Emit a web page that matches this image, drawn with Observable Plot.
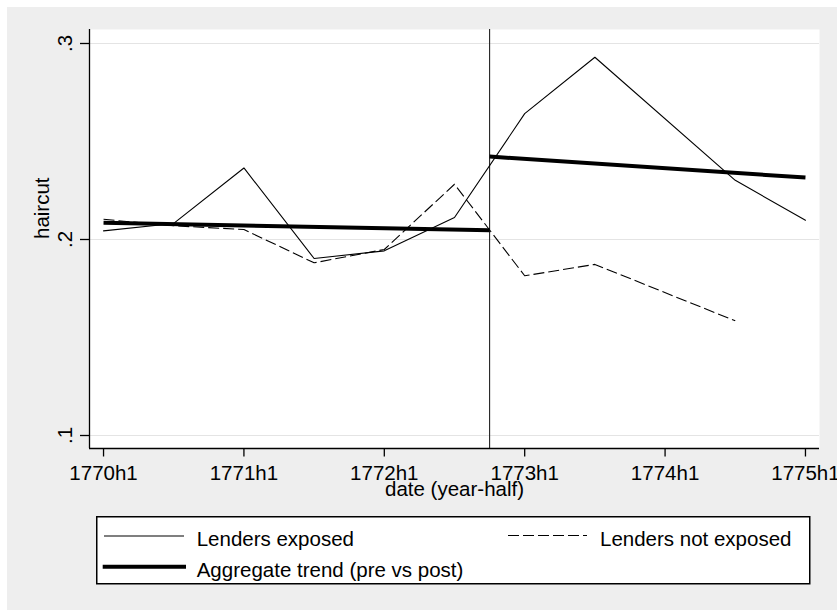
<!DOCTYPE html>
<html><head><meta charset="utf-8">
<script src="https://cdn.jsdelivr.net/npm/d3@7"></script>
<script src="https://cdn.jsdelivr.net/npm/@observablehq/plot@0.6"></script>
<style>
html,body{margin:0;padding:0;background:#fff;}
#wrap{position:relative;width:837px;height:610px;background:#fff;overflow:hidden;font-family:"Liberation Sans",Arial,sans-serif;}
#bg{position:absolute;left:7px;top:7px;right:0;bottom:0;background:#eeeeee;}
#chart{position:absolute;left:0;top:0;}
#legend{position:absolute;left:96px;top:516px;}
</style></head><body>
<div id="wrap"><div id="bg"></div><div id="chart"></div><div id="legend"></div></div>
<script>
// ---- data ----
const periods = ["1770h1","1770h2","1771h1","1771h2","1772h1","1772h2","1773h1","1773h2","1774h1","1774h2","1775h1"];
const exposed    = [0.2044, 0.2082, 0.2365, 0.1903, 0.1942, 0.2112, 0.2642, 0.2930, null, 0.2302, 0.2098];
const notExposed = [0.2103, 0.2070, 0.2051, 0.1881, 0.1949, 0.2282, 0.1815, 0.1873, null, 0.1585, null];
const eventDate = 1772.75; // break between 1772h2 and 1773h1
const trendSegment = ["pre", "pre", "post", "post"];
const trendDate    = [1770, 1772.75, 1772.75, 1775];
const trendValue   = [0.2085, 0.2047, 0.2423, 0.2316];
const xTickLabels = ["1770h1","1771h1","1772h1","1773h1","1774h1","1775h1"];
const yTicks = [0.1, 0.2, 0.3];
const yTickLabels = [".1", ".2", ".3"];
const seriesNames = ["Lenders exposed", "Lenders not exposed", "Aggregate trend (pre vs post)"];

// ---- build ----
const toYear = p => +p.slice(0,4) + (+p.slice(5) - 1) * 0.5;
const rows = periods.map((p,i) => ({t: toYear(p), exposed: exposed[i], notExposed: notExposed[i]}));
const trend = trendDate.map((t,i) => ({t, v: trendValue[i], seg: trendSegment[i]}));
const xTicks = xTickLabels.map(toYear);
const xLab = new Map(xTicks.map((t,i) => [t, xTickLabels[i]]));
const yLab = new Map(yTicks.map((t,i) => [t, yTickLabels[i]]));
const xDomain = [1769.9, 1775.1];
const yDomain = [0.09337, 0.30714];
const font = "'Liberation Sans', Arial, sans-serif";
const fs = 20.5;

const chart = Plot.plot({
  width: 837, height: 510,
  marginLeft: 89, marginRight: 18, marginTop: 29, marginBottom: 62,
  style: {background: "transparent", fontFamily: font, fontSize: fs + "px", color: "#000", overflow: "visible"},
  x: {domain: xDomain, label: null},
  y: {domain: yDomain, label: null},
  marks: [
    Plot.frame({fill: "white", stroke: "none"}),
    Plot.gridY(yTicks, {stroke: "#e4e4e4", strokeOpacity: 1, strokeWidth: 1.2}),
    Plot.ruleX([eventDate], {stroke: "#222", strokeWidth: 1.1}),
    Plot.line(rows.filter(d => d.exposed != null), {x: "t", y: "exposed", stroke: "#000", strokeWidth: 1.1}),
    Plot.line(rows.filter(d => d.notExposed != null), {x: "t", y: "notExposed", stroke: "#000", strokeWidth: 1.1, strokeDasharray: "11,4", strokeLinecap: "butt"}),
    Plot.line(trend, {x: "t", y: "v", z: "seg", stroke: "#000", strokeWidth: 4, strokeLinecap: "butt"}),
    Plot.ruleY([yDomain[0]], {stroke: "#000", strokeWidth: 1.3}),
    Plot.ruleX([xDomain[0]], {stroke: "#000", strokeWidth: 1.3}),
    Plot.axisX(xTicks, {tickFormat: d => xLab.get(d), tickSize: 8.5, tickPadding: 8.5, fontSize: fs, stroke: "#000", strokeWidth: 1.3, label: null}),
    Plot.axisY(yTicks, {tickFormat: d => yLab.get(d), tickSize: 9, tickPadding: 9, tickRotate: -90, fontSize: fs, stroke: "#000", strokeWidth: 1.3, label: null}),
    Plot.text(["haircut"], {text: d => d, frameAnchor: "left", dx: -47, rotate: -90, fontSize: fs}),
    Plot.text(["date (year-half)"], {text: d => d, frameAnchor: "bottom", dy: 47, fontSize: fs})
  ]
});
document.getElementById("chart").appendChild(chart);

// ---- legend ----
const L = d3.select("#legend").append("svg").attr("width", 716).attr("height", 70)
  .style("font-family", font).style("font-size", fs + "px");
L.append("rect").attr("x", 0.75).attr("y", 0.75).attr("width", 713).attr("height", 67)
  .attr("fill", "#fff").attr("stroke", "#000").attr("stroke-width", 1.5);
const keys = [
  {name: seriesNames[0], x1: 8, x2: 88, y: 20, tx: 100.7, ty: 29.5, w: 1.1, dash: null},
  {name: seriesNames[1], x1: 412, x2: 491, y: 19.5, tx: 504, ty: 29.5, w: 1.1, dash: "11,4"},
  {name: seriesNames[2], x1: 6.7, x2: 90, y: 50.7, tx: 100.7, ty: 60.7, w: 4, dash: null}
];
for (const k of keys) {
  L.append("line").attr("x1", k.x1).attr("x2", k.x2).attr("y1", k.y).attr("y2", k.y)
    .attr("stroke", "#000").attr("stroke-width", k.w).attr("stroke-dasharray", k.dash);
  L.append("text").attr("x", k.tx).attr("y", k.ty).attr("fill", "#000").text(k.name);
}
</script>
</body></html>
